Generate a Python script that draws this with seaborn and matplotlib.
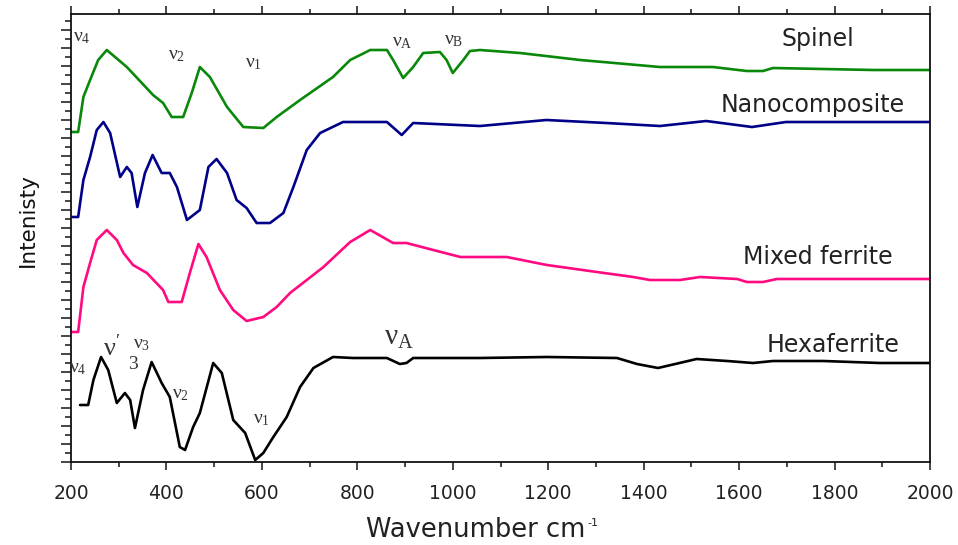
import numpy as np
import pandas as pd
import matplotlib
matplotlib.use("Agg")
import matplotlib.pyplot as plt
import seaborn as sns
from matplotlib.ticker import MultipleLocator

# ---- data (wavenumber in cm^-1, intensity in arbitrary stacked units) ----
spinel_x = [200, 215, 226, 240, 257, 275, 317, 372, 393, 411, 435, 453, 470, 491, 527, 561, 603, 631,
            680, 749, 785, 827, 862, 875, 896, 917, 938, 973, 987, 1000, 1022, 1036, 1057, 1141, 1267,
            1434, 1545, 1616, 1650, 1671, 1881, 2000]
spinel_y = [330, 330, 365, 382, 402, 412, 395, 367, 359, 345, 345, 369, 395, 385, 355, 335, 334, 345,
            362, 385, 402, 412, 412, 402, 384, 395, 409, 410, 402, 389, 402, 411, 412, 409, 402,
            395, 395, 391, 391, 394, 392, 392]

nano_x = [200, 215, 226, 240, 254, 268, 282, 303, 317, 327, 339, 355, 371, 390, 407, 422, 443, 470,
          488, 505, 527, 547, 568, 589, 617, 645, 666, 694, 722, 770, 862, 893, 917, 1057, 1196,
          1322, 1434, 1531, 1627, 1698, 2000]
nano_y = [245, 245, 282, 305, 332, 340, 329, 285, 295, 289, 255, 289, 307, 289, 289, 275, 242, 252,
          295, 303, 289, 262, 254, 239, 239, 249, 275, 312, 329, 340, 340, 327, 339, 336, 342,
          339, 336, 341, 335, 340, 340]

mixed_x = [200, 215, 226, 240, 254, 275, 296, 310, 330, 359, 393, 404, 432, 449, 467, 484, 512, 540,
           568, 603, 631, 659, 694, 729, 785, 827, 875, 903, 959, 1016, 1057, 1113, 1197, 1302, 1378,
           1413, 1476, 1518, 1596, 1616, 1650, 1679, 2000]
mixed_y = [130, 130, 175, 199, 222, 232, 222, 209, 197, 189, 172, 160, 160, 189, 218, 205, 172, 152,
           141, 145, 155, 169, 182, 195, 220, 232, 219, 219, 212, 205, 205, 205, 197, 190, 185,
           182, 182, 185, 183, 180, 180, 183, 183]

hexa_x = [219, 236, 247, 263, 278, 296, 313, 324, 334, 351, 369, 390, 407, 428, 439, 456, 470, 498,
          516, 540, 565, 586, 603, 624, 652, 680, 708, 749, 791, 862, 889, 903, 917, 1057, 1197,
          1344, 1386, 1430, 1511, 1575, 1629, 1671, 1776, 1895, 2000]
hexa_y = [57, 57, 82, 105, 92, 59, 69, 62, 34, 72, 100, 79, 65, 15, 12, 35, 49, 99,
          89, 42, 29, 2, 9, 25, 45, 75, 94, 105, 104, 104, 98, 99, 104, 104, 105,
          104, 98, 94, 103, 101, 99, 101, 101, 99, 99]

series_names = ["Spinel", "Nanocomposite", "Mixed ferrite", "Hexaferrite"]
series_x = [spinel_x, nano_x, mixed_x, hexa_x]
series_y = [spinel_y, nano_y, mixed_y, hexa_y]
colors = ["#0a880a", "#000088", "#ff0a80", "#000000"]

x_ticks = [200, 400, 600, 800, 1000, 1200, 1400, 1600, 1800, 2000]

frames = []
for name, xs, ys in zip(series_names, series_x, series_y):
    frames.append(pd.DataFrame({"wavenumber": xs, "intensity": ys, "sample": name}))
df = pd.concat(frames, ignore_index=True)

# ---- figure ----
sns.set_style("ticks")
plt.rcParams["font.family"] = ["DejaVu Sans"]
plt.rcParams["mathtext.fontset"] = "custom"
plt.rcParams["mathtext.rm"] = "Liberation Serif"
plt.rcParams["mathtext.it"] = "Liberation Serif"
plt.rcParams["mathtext.default"] = "rm"

fig = plt.figure(figsize=(9.58, 5.45), dpi=100)
ax = fig.add_axes([0.0741, 0.1523, 0.8967, 0.8220])

sns.lineplot(data=df, x="wavenumber", y="intensity", hue="sample", palette=colors,
             hue_order=series_names, units="sample", estimator=None, sort=False,
             linewidth=1.9, legend=False, ax=ax)

ax.set_xlim(200, 2000)
ax.set_ylim(0, 448)
ax.set_xticks(x_ticks)
ax.set_xticklabels([str(t) for t in x_ticks], fontsize=13.5, color="#222222")
ax.xaxis.set_minor_locator(MultipleLocator(100))
ax.yaxis.set_major_locator(MultipleLocator(18))
ax.yaxis.set_minor_locator(MultipleLocator(9))
ax.set_yticklabels([])
ax.tick_params(axis="y", which="major", length=7, width=1.2, left=True, labelleft=False)
ax.tick_params(axis="y", which="minor", length=4, width=1.2)
ax.tick_params(axis="x", which="major", length=6, width=1.2, top=True, bottom=True, pad=10)
ax.tick_params(axis="x", which="minor", length=3.5, width=1.2, top=True, bottom=True)
for side in ["left", "right", "top", "bottom"]:
    ax.spines[side].set_visible(True)
    ax.spines[side].set_linewidth(1.3)
    ax.spines[side].set_color("#111111")

ax.set_xlabel("Wavenumber cm", fontsize=18.5, color="#222222")
ax.xaxis.set_label_coords(0.4715, -0.122)
ax.annotate("-1", xy=(1, 1), xycoords=ax.xaxis.label, xytext=(1, -1),
            textcoords="offset points", fontsize=8, color="#222222", ha="left", va="top")
ax.set_ylabel("Intenisty", fontsize=15.5, color="#111111")
ax.yaxis.set_label_coords(-0.039, 0.54)

# ---- series labels ----
def px_to_data(px, py):
    return 200 + (px - 71) / 0.4772, 462 - py

txt_color = "#222222"
for name, (px, py) in zip(series_names, [(818, 39), (813, 105), (818, 257), (833, 345)]):
    xd, yd = px_to_data(px, py)
    ax.text(xd, yd, name, fontsize=17, color=txt_color, ha="center", va="center")

# ---- band labels ----
band_labels = [
    (r"$\nu_4$", 82, 36, 14), (r"$\nu_2$", 177, 54, 14), (r"$\nu_1$", 253, 62, 14),
    (r"$\nu_A$", 402, 41, 14), (r"$\nu_B$", 454, 39, 14),
    (r"$\nu_4$", 78, 368, 14), (r"$\nu'$", 112, 349, 19), (r"$3$", 133, 364, 14),
    (r"$\nu_3$", 142, 344, 14), (r"$\nu_2$", 181, 394, 14), (r"$\nu_1$", 261, 419, 14),
    (r"$\nu_A$", 399, 337, 21),
]
for lab, px, py, fs in band_labels:
    xd, yd = px_to_data(px, py)
    ax.text(xd, yd, lab, fontsize=fs, color="#333333", ha="center", va="center")

fig.savefig("out.png", dpi=100)
